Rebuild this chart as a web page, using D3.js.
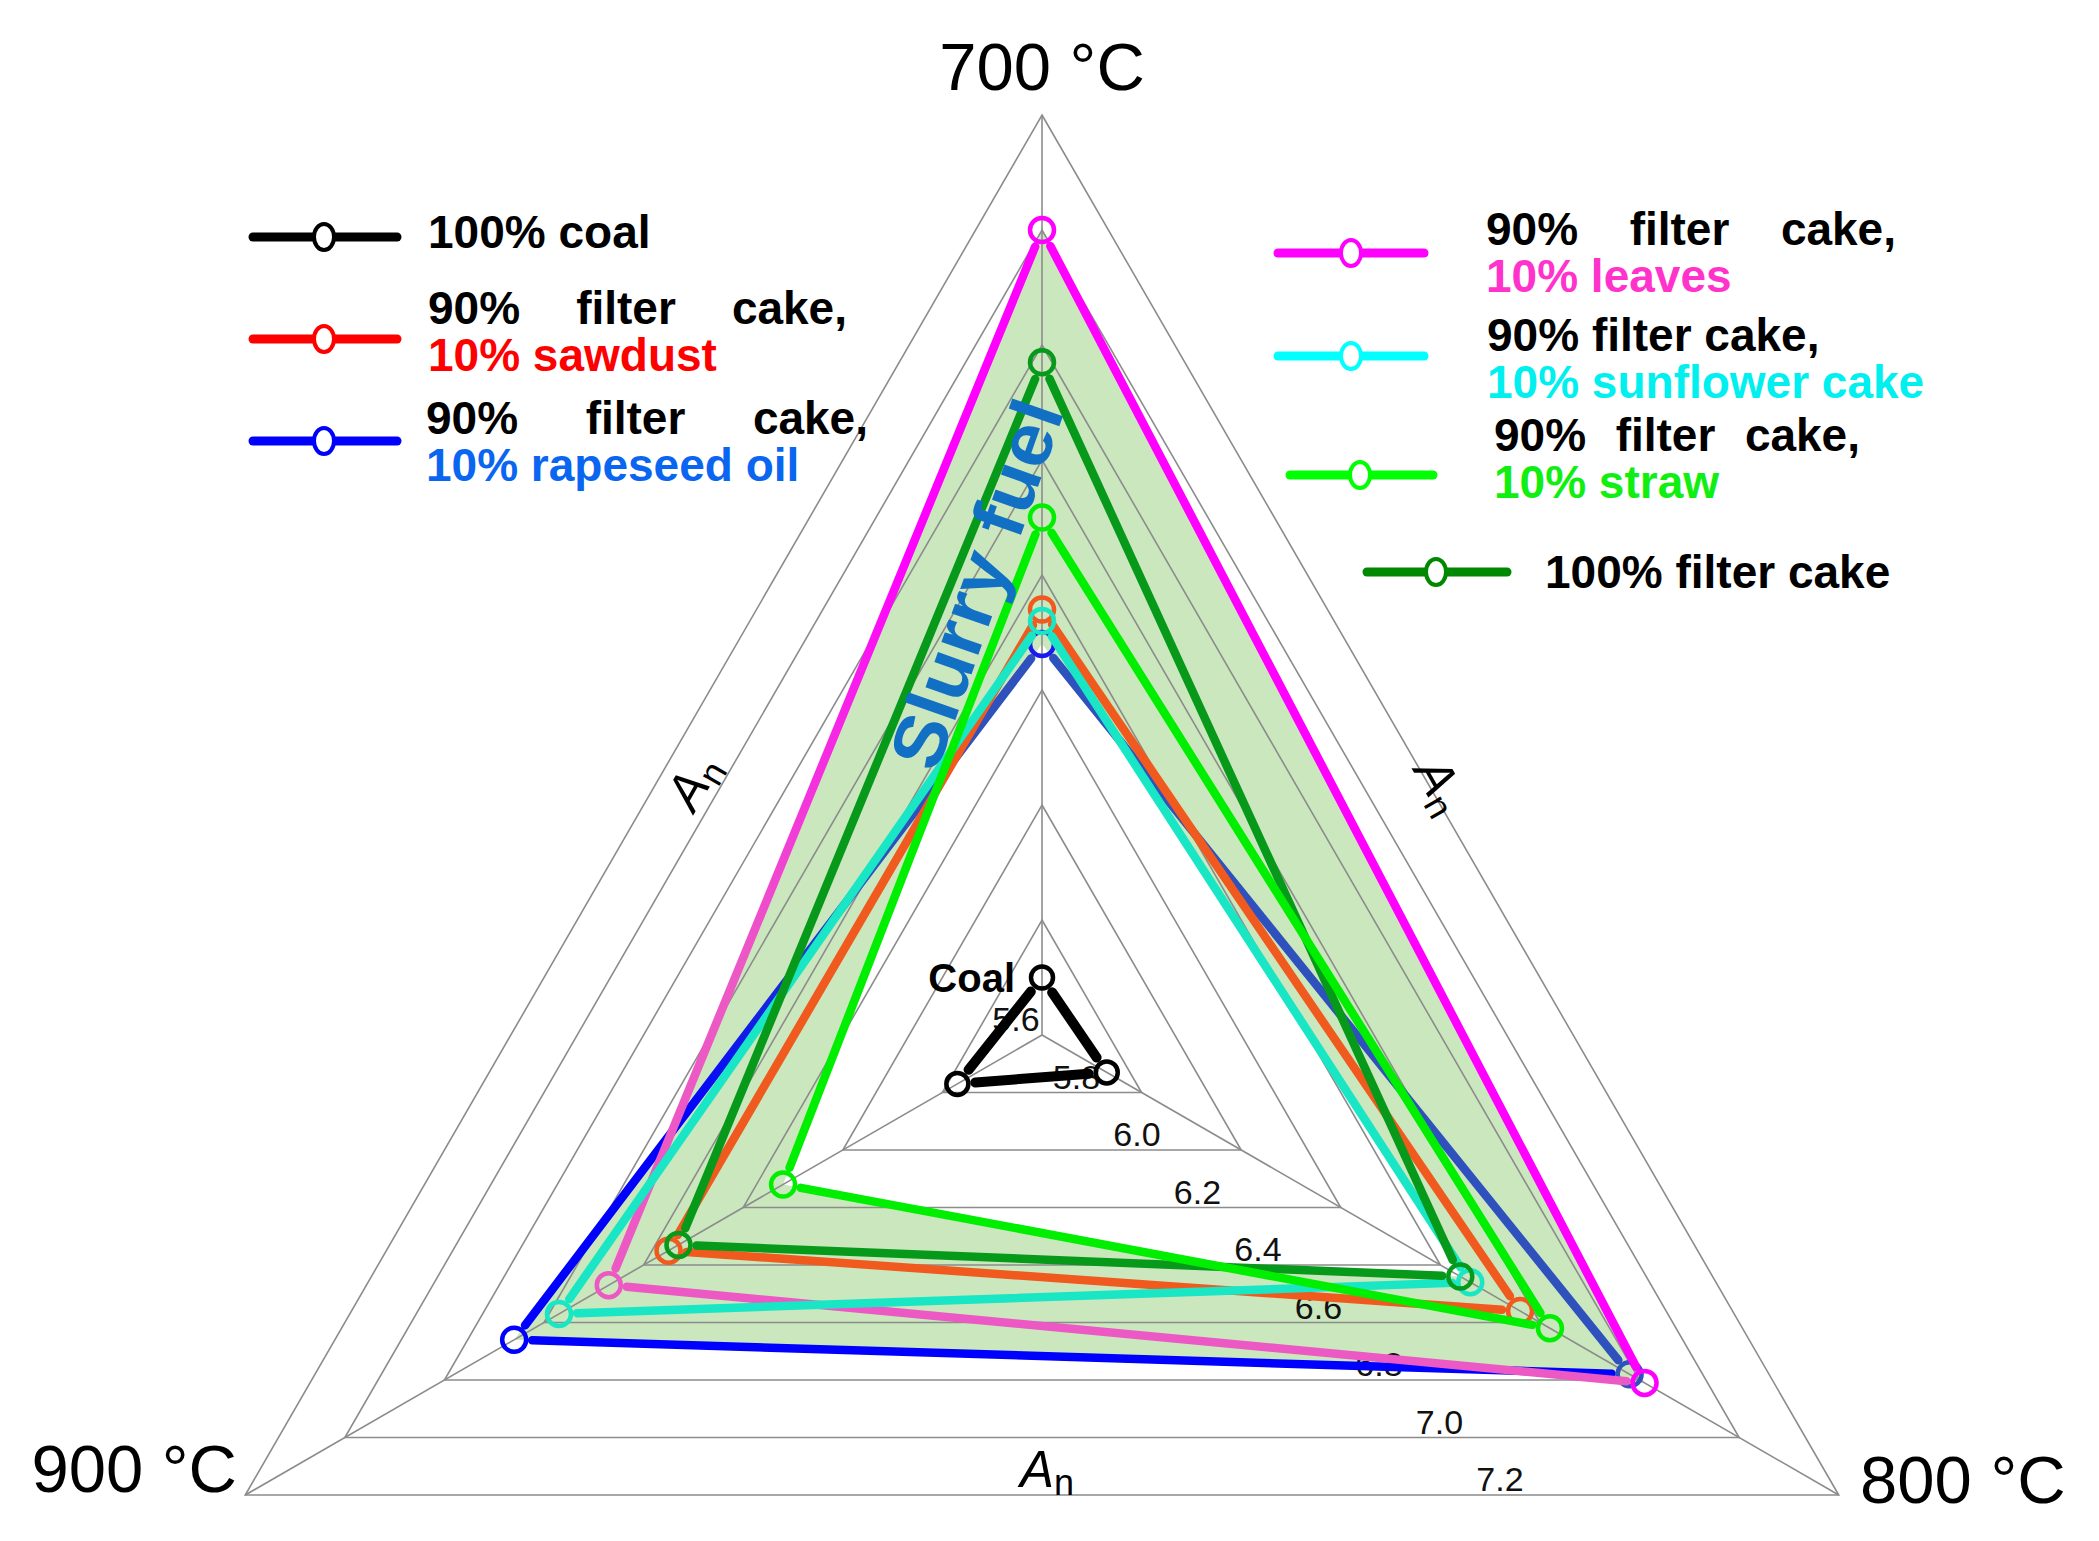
<!DOCTYPE html>
<html>
<head>
<meta charset="utf-8">
<script src="https://cdn.jsdelivr.net/npm/d3@7"></script>
<style>
  body { margin: 0; background: #fff; }
  svg { display: block; font-family: "Liberation Sans", Arial, sans-serif; }
</style>
</head>
<body>
<svg id="chart" width="2099" height="1541"></svg>
<script>
// ---- data ----
var axisNames   = ["700 °C", "800 °C", "900 °C"];           // clockwise from top
var tickValues  = [5.6, 5.8, 6.0, 6.2, 6.4, 6.6, 6.8, 7.0, 7.2];
var tickLabels  = ["5.6", "5.8", "6.0", "6.2", "6.4", "6.6", "6.8", "7.0", "7.2"];

var coal          = [5.70, 5.73, 5.77];
var sawdust       = [6.34, 6.56, 6.35];
var rapeseedOil   = [6.28, 6.78, 6.66];
var leaves        = [7.00, 6.81, 6.47];
var sunflowerCake = [6.32, 6.46, 6.57];
var straw         = [6.50, 6.62, 6.12];
var filterCake    = [6.77, 6.44, 6.33];

var legendCoal       = ["100% coal"];
var legendSawdust    = ["90% filter cake,", "10% sawdust"];
var legendRapeseed   = ["90% filter cake,", "10% rapeseed oil"];
var legendLeaves     = ["90% filter cake,", "10% leaves"];
var legendSunflower  = ["90% filter cake,", "10% sunflower cake"];
var legendStraw      = ["90% filter cake,", "10% straw"];
var legendFilterCake = ["100% filter cake"];

// ---- geometry ----
var cx = 1042, cy = 1035, R = 920;
var r = d3.scaleLinear().domain([5.6, 7.2]).range([0, R]);
var angle = d3.scaleOrdinal().domain(axisNames).range([-90, 30, 150]);

function pt(i, v) {
  var a = angle(axisNames[i]) * Math.PI / 180;
  return [cx + r(v) * Math.cos(a), cy + r(v) * Math.sin(a)];
}
function poly(vals) {
  return vals.map(function(v, i) { return pt(i, v).join(","); }).join(" ");
}
function shorten(p, q, g) {
  var dx = q[0] - p[0], dy = q[1] - p[1], L = Math.hypot(dx, dy);
  return [[p[0] + dx / L * g, p[1] + dy / L * g], [q[0] - dx / L * g, q[1] - dy / L * g]];
}

var svg = d3.select("#chart");
var defs = svg.append("defs");

// series in drawing order (bottom to top); segment colours are [700-800, 800-900, 900-700]
var BL = "#0000ff", SB = "#2f51bd", MG = "#ff00ff", PK = "#ec58c4";
var slurry = [
  { v: rapeseedOil,   seg: [[SB, SB], [BL, BL], [BL, SB]], mk: ["#1a1aee", SB, BL] },
  { v: leaves,        seg: [[MG, MG], [PK, PK], [PK, MG]], mk: [MG, MG, PK] },
  { v: sawdust,       seg: "#f05a1e", mk: "#f05a1e" },
  { v: sunflowerCake, seg: "#18e6c4", mk: "#18e6c4" },
  { v: filterCake,    seg: "#06991a", mk: "#06991a" },
  { v: straw,         seg: "#00ee00", mk: "#00ee00" }
];

// ---- "slurry fuel" band: union of the blends minus their intersection ----
var fillLayer = svg.append("g");
slurry.forEach(function(s) {
  fillLayer.append("polygon").attr("points", poly(s.v)).attr("fill", "#cbe7bd");
});
var inner = fillLayer;
slurry.forEach(function(s, i) {
  defs.append("clipPath").attr("id", "clip" + i)
    .append("polygon").attr("points", poly(s.v));
  inner = inner.append("g").attr("clip-path", "url(#clip" + i + ")");
});
inner.append("rect").attr("width", 2099).attr("height", 1541).attr("fill", "#fff");

// ---- grid ----
var grid = svg.append("g").attr("fill", "none").attr("stroke", "#8c8c8c").attr("stroke-width", 1.6);
grid.selectAll("polygon").data(tickValues.slice(1)).enter().append("polygon")
  .attr("points", function(v) { return poly([v, v, v]); });
grid.selectAll("line").data(axisNames).enter().append("line")
  .attr("x1", cx).attr("y1", cy)
  .attr("x2", function(d, i) { return pt(i, 7.2)[0]; })
  .attr("y2", function(d, i) { return pt(i, 7.2)[1]; });

svg.append("g").selectAll("text").data(tickValues).enter().append("text")
  .attr("x", function(v) { return cx - 26 + 0.526 * r(v); })
  .attr("y", function(v) { return cy + r(v) / 2 - 4; })
  .attr("text-anchor", "middle").attr("font-size", 34).attr("fill", "#111")
  .text(function(v, i) { return tickLabels[i]; });

// A_n labels along the sides
function anLabel(x, y, rot) {
  var t = svg.append("text").attr("transform", "translate(" + x + "," + y + ") rotate(" + rot + ")")
    .attr("text-anchor", "middle").attr("y", 16).attr("fill", "#000");
  t.append("tspan").attr("font-size", 51).attr("font-style", "italic").text("A");
  t.append("tspan").attr("font-size", 36).attr("dy", 8).text("n");
}
anLabel(694, 782, -60);
anLabel(1440, 786, 60);
anLabel(1047, 1471, 0);

// ---- series lines and markers ----
var gap = 18;
function drawSeries(vals, seg, mk, width, mr) {
  var g = svg.append("g");
  for (var i = 0; i < 3; i++) {
    var j = (i + 1) % 3;
    var s = shorten(pt(i, vals[i]), pt(j, vals[j]), gap);
    var col = typeof seg === "string" ? [seg, seg] : seg[i];
    var stroke = col[0];
    if (col[0] !== col[1]) {
      var id = "grad" + i + Math.random().toString(36).slice(2);
      var lg = defs.append("linearGradient").attr("id", id).attr("gradientUnits", "userSpaceOnUse")
        .attr("x1", s[0][0]).attr("y1", s[0][1]).attr("x2", s[1][0]).attr("y2", s[1][1]);
      lg.append("stop").attr("offset", 0.3).attr("stop-color", col[0]);
      lg.append("stop").attr("offset", 0.7).attr("stop-color", col[1]);
      stroke = "url(#" + id + ")";
    }
    g.append("line").attr("x1", s[0][0]).attr("y1", s[0][1]).attr("x2", s[1][0]).attr("y2", s[1][1])
      .attr("stroke", stroke).attr("stroke-width", width).attr("stroke-linecap", "round");
  }
  g.selectAll("circle").data(vals).enter().append("circle")
    .attr("cx", function(v, i) { return pt(i, v)[0]; })
    .attr("cy", function(v, i) { return pt(i, v)[1]; })
    .attr("r", mr).attr("fill", "none").attr("stroke-width", 4.5)
    .attr("stroke", function(v, i) { return typeof mk === "string" ? mk : mk[i]; });
}
slurry.forEach(function(s) { drawSeries(s.v, s.seg, s.mk, 8.5, 12); });
drawSeries(coal, "#000", "#000", 10, 11);

svg.append("text").attr("x", 1015).attr("y", 992).attr("text-anchor", "end")
  .attr("font-size", 40).attr("font-weight", "bold").text("Coal");

svg.append("text").attr("transform", "translate(976,584) rotate(-70.5)")
  .attr("text-anchor", "middle").attr("dy", "0.35em")
  .attr("font-size", 74).attr("font-weight", "bold").attr("fill", "#1170c4")
  .attr("textLength", 385).attr("lengthAdjust", "spacingAndGlyphs")
  .text("Slurry fuel");

// ---- axis titles ----
var titles = svg.append("g").attr("font-size", 67).attr("fill", "#000");
titles.append("text").attr("x", cx).attr("y", 90).attr("text-anchor", "middle").text(axisNames[0]);
titles.append("text").attr("x", 1860).attr("y", 1503).text(axisNames[1]);
titles.append("text").attr("x", 237).attr("y", 1492).attr("text-anchor", "end").text(axisNames[2]);

// ---- legend ----
var leg = svg.append("g").attr("font-size", 46).attr("font-weight", "bold");
function justify(str, x0, x1, y, fill) {
  var words = str.split(" ");
  var nodes = words.map(function(w) { return leg.append("text").attr("y", y).attr("fill", fill).text(w); });
  var widths = nodes.map(function(n) { return n.node().getComputedTextLength(); });
  var space = x1 == null ? 12.8 : (x1 - x0 - d3.sum(widths)) / (words.length - 1);
  var x = x0;
  nodes.forEach(function(n, i) { n.attr("x", x); x += widths[i] + space; });
}
function legendItem(lines, col, textCol, lx0, lx1, mx, ly, tx, tx1, ty) {
  leg.append("line").attr("x1", lx0).attr("x2", lx1).attr("y1", ly).attr("y2", ly)
    .attr("stroke", col).attr("stroke-width", 9).attr("stroke-linecap", "round");
  leg.append("ellipse").attr("cx", mx).attr("cy", ly).attr("rx", 10).attr("ry", 13)
    .attr("fill", "#fff").attr("stroke", col).attr("stroke-width", 4);
  justify(lines[0], tx, tx1, ty, "#000");
  if (lines[1]) leg.append("text").attr("x", tx).attr("y", ty + 47).attr("fill", textCol).text(lines[1]);
}
legendItem(legendCoal,       "#000",    "#000",    253, 397, 324, 237, 428, null, 248);
legendItem(legendSawdust,    "#ff0000", "#ff0000", 253, 397, 324, 339, 428, 847,  324);
legendItem(legendRapeseed,   "#0000ff", "#0a66f0", 253, 397, 324, 441, 426, 868,  434);
legendItem(legendLeaves,     "#ff00ff", "#ff33cc", 1278, 1424, 1351, 253, 1486, 1896, 245);
legendItem(legendSunflower,  "#00ffff", "#00f0f0", 1278, 1424, 1351, 356, 1487, null, 351);
legendItem(legendStraw,      "#00ff00", "#11ee11", 1290, 1433, 1360, 475, 1494, 1860, 451);
legendItem(legendFilterCake, "#008800", "#000",    1367, 1507, 1436, 572, 1545, null, 588);
</script>
</body>
</html>
